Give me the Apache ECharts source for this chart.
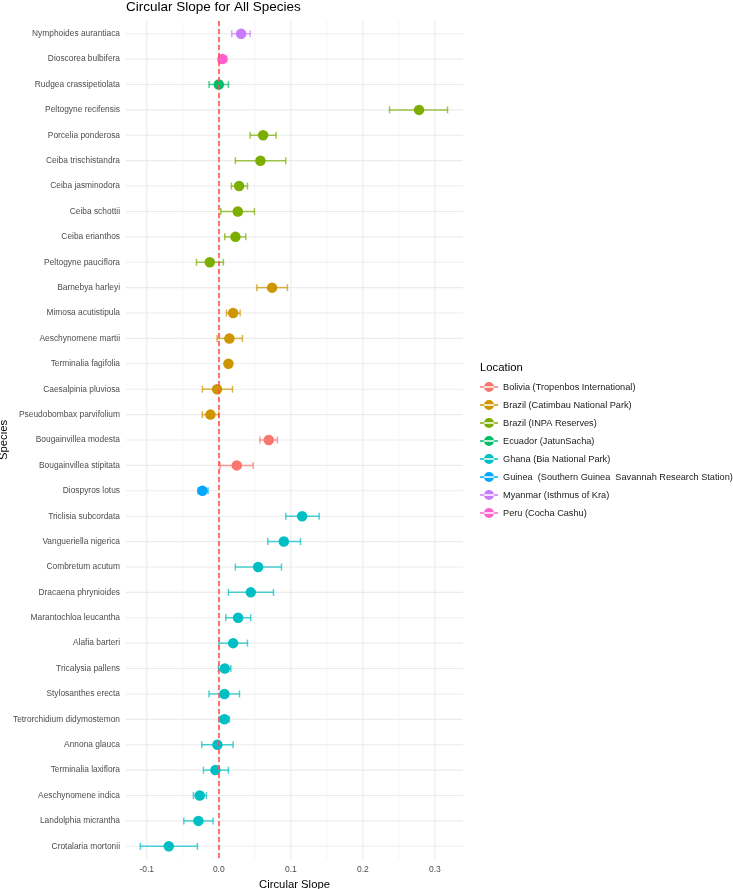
<!DOCTYPE html>
<html>
<head>
<meta charset="utf-8">
<script src="https://cdn.jsdelivr.net/npm/echarts@6/dist/echarts.min.js"></script>
<style>
  html, body { margin: 0; padding: 0; background: #fff; }
  #chart { width: 733px; height: 889px; }
</style>
</head>
<body>
<div id="chart"></div>
<script>
// species, top to bottom
var species = [
    'Nymphoides aurantiaca', 'Dioscorea bulbifera', 'Rudgea crassipetiolata',
    'Peltogyne recifensis', 'Porcelia ponderosa', 'Ceiba trischistandra',
    'Ceiba jasminodora', 'Ceiba schottii', 'Ceiba erianthos', 'Peltogyne pauciflora',
    'Barnebya harleyi', 'Mimosa acutistipula', 'Aeschynomene martii',
    'Terminalia fagifolia', 'Caesalpinia pluviosa', 'Pseudobombax parvifolium',
    'Bougainvillea modesta', 'Bougainvillea stipitata', 'Diospyros lotus',
    'Triclisia subcordata', 'Vangueriella nigerica', 'Combretum acutum',
    'Dracaena phrynioides', 'Marantochloa leucantha', 'Alafia barteri',
    'Tricalysia pallens', 'Stylosanthes erecta', 'Tetrorchidium didymostemon',
    'Annona glauca', 'Terminalia laxiflora', 'Aeschynomene indica',
    'Landolphia micrantha', 'Crotalaria mortonii'
];
// index into locations
var speciesLoc = [6, 7, 3, 2, 2, 2, 2, 2, 2, 2, 1, 1, 1, 1, 1, 1, 0, 0, 5,
    4, 4, 4, 4, 4, 4, 4, 4, 4, 4, 4, 4, 4, 4];
var slope = [0.031, 0.005, 0.0, 0.278, 0.0615, 0.0578, 0.0282, 0.0264, 0.0231, -0.0125,
    0.074, 0.0199, 0.0147, 0.0134, -0.0024, -0.0116, 0.0694, 0.025, -0.0228,
    0.1157, 0.0903, 0.0546, 0.0444, 0.0268, 0.0199, 0.0083, 0.0078, 0.0078,
    -0.0019, -0.0047, -0.0264, -0.0283, -0.0694];
var lower = [0.018, 0.0, -0.0135, 0.237, 0.0435, 0.023, 0.0175, 0.0028, 0.0083, -0.031,
    0.0528, 0.0106, -0.0024, 0.010, -0.0228, -0.0228, 0.057, 0.0018, -0.0287,
    0.093, 0.068, 0.023, 0.0134, 0.0097, 0.0004, -0.0005, -0.0135, 0.0004,
    -0.0236, -0.0213, -0.0352, -0.0486, -0.1089];
var upper = [0.0435, 0.011, 0.0134, 0.3175, 0.0796, 0.093, 0.0398, 0.0495, 0.0375, 0.0064,
    0.0953, 0.0296, 0.0328, 0.017, 0.019, 0.0, 0.0814, 0.0477, -0.0149,
    0.1393, 0.1134, 0.087, 0.0759, 0.0444, 0.0398, 0.0167, 0.0287, 0.0147,
    0.0199, 0.0134, -0.0172, -0.0079, -0.0297];

var locations = [
    'Bolivia (Tropenbos International)',
    'Brazil (Catimbau National Park)',
    'Brazil (INPA Reserves)',
    'Ecuador (JatunSacha)',
    'Ghana (Bia National Park)',
    'Guinea  (Southern Guinea  Savannah Research Station)',
    'Myanmar (Isthmus of Kra)',
    'Peru (Cocha Cashu)'
];
var locColors = ['#F8766D', '#CD9600', '#7CAE00', '#00BE67', '#00BFC4', '#00A9FF', '#C77CFF', '#FF61CC'];

var xMajor = [-0.1, 0.0, 0.1, 0.2, 0.3];
var xMinor = [-0.05, 0.05, 0.15, 0.25];
var xMin = -0.1288, xMax = 0.339;

var chart = echarts.init(document.getElementById('chart'));

var legendIcon = 'path://M0,4.3 L18,4.3 L18,5.7 L0,5.7 Z M4,5 A5,5 0 1,0 14,5 A5,5 0 1,0 4,5 Z';

function errorBarItem(params, api) {
    var lo = api.coord([api.value(0), api.value(2)]);
    var hi = api.coord([api.value(1), api.value(2)]);
    var h = 3.5;
    var style = { stroke: api.visual('color'), lineWidth: 1.5, opacity: 0.7 };
    return {
        type: 'group',
        children: [
            { type: 'line', shape: { x1: lo[0], y1: lo[1], x2: hi[0], y2: hi[1] }, style: style },
            { type: 'line', shape: { x1: lo[0], y1: lo[1] - h, x2: lo[0], y2: lo[1] + h }, style: style },
            { type: 'line', shape: { x1: hi[0], y1: hi[1] - h, x2: hi[0], y2: hi[1] + h }, style: style }
        ]
    };
}

var series = [];

// horizontal grid lines, one per species row
series.push({
    type: 'custom',
    name: 'hgrid',
    silent: true,
    z: 0,
    data: species.map(function (s) { return [0, s]; }),
    renderItem: function (params, api) {
        var cs = params.coordSys;
        var p = api.coord([0, api.value(1)]);
        return {
            type: 'line',
            shape: { x1: cs.x, y1: p[1], x2: cs.x + cs.width, y2: p[1] },
            style: { stroke: '#EBEBEB', lineWidth: 1.1 }
        };
    }
});

// vertical grid lines
series.push({
    type: 'custom',
    name: 'vgrid',
    silent: true,
    z: 0,
    data: xMajor.map(function (v) { return [v, species[0], 1]; })
        .concat(xMinor.map(function (v) { return [v, species[0], 0]; })),
    renderItem: function (params, api) {
        var cs = params.coordSys;
        var p = api.coord([api.value(0), api.value(1)]);
        var major = api.value(2) === 1;
        return {
            type: 'line',
            shape: { x1: p[0], y1: cs.y, x2: p[0], y2: cs.y + cs.height },
            style: { stroke: major ? '#EBEBEB' : '#F2F2F2', lineWidth: major ? 1.1 : 0.7 }
        };
    },
    markLine: {
        silent: true,
        symbol: 'none',
        label: { show: false },
        lineStyle: { color: '#FF5050', width: 1.6, type: [5, 3] },
        data: [{ xAxis: 0 }],
        z: 5
    }
});

for (var k = 0; k < locations.length; k++) {
    var bars = [];
    var pts = [];
    for (var i = 0; i < species.length; i++) {
        if (speciesLoc[i] !== k) continue;
        bars.push([lower[i], upper[i], species[i]]);
        pts.push([slope[i], species[i]]);
    }
    series.push({
        type: 'custom',
        name: locations[k],
        itemStyle: { color: locColors[k] },
        z: 3,
        encode: { x: [0, 1], y: 2 },
        data: bars,
        renderItem: errorBarItem
    });
    series.push({
        type: 'scatter',
        name: locations[k],
        symbolSize: 10.5,
        itemStyle: { color: locColors[k], opacity: 1 },
        z: 4,
        data: pts
    });
}

var option = {
    backgroundColor: '#fff',
    animation: false,
    textStyle: { fontFamily: 'Liberation Sans, Arial, sans-serif' },
    title: [
        {
            text: 'Circular Slope for All Species',
            left: 121,
            top: -5,
            textStyle: { fontSize: 13.5, fontWeight: 'normal', color: '#000' }
        },
        {
            text: 'Location',
            left: 475,
            top: 357,
            textStyle: { fontSize: 11.3, fontWeight: 'normal', color: '#000' }
        }
    ],
    legend: {
        orient: 'vertical',
        left: 480,
        top: 382,
        padding: 0,
        itemWidth: 18,
        itemHeight: 12,
        itemGap: 8,
        itemStyle: { opacity: 1 },
        textStyle: { fontSize: 9.2, color: '#1a1a1a' },
        data: locations.map(function (l) { return { name: l, icon: legendIcon }; })
    },
    grid: { left: 126, right: 270, top: 21, bottom: 30, containLabel: false, outerBoundsMode: 'none' },
    xAxis: {
        type: 'value',
        min: xMin,
        max: xMax,
        name: 'Circular Slope',
        nameLocation: 'middle',
        nameGap: 15,
        nameTextStyle: { fontSize: 11.3, color: '#000' },
        axisLine: { show: false },
        axisTick: { show: false },
        splitLine: { show: false },
        axisLabel: {
            fontSize: 8.5,
            color: '#4D4D4D',
            margin: 6,
            showMinLabel: false,
            showMaxLabel: false,
            formatter: function (v) {
                for (var j = 0; j < xMajor.length; j++) {
                    if (Math.abs(v - xMajor[j]) < 1e-6) return xMajor[j].toFixed(1);
                }
                return '';
            }
        }
    },
    yAxis: {
        type: 'category',
        inverse: true,
        data: species,
        name: 'Species',
        nameLocation: 'middle',
        nameGap: 109,
        nameTextStyle: { fontSize: 11.3, color: '#000' },
        axisLine: { show: false },
        axisTick: { show: false },
        splitLine: { show: false },
        axisLabel: { fontSize: 8.4, color: '#4D4D4D', margin: 6 }
    },
    series: series
};

chart.setOption(option);
</script>
</body>
</html>
